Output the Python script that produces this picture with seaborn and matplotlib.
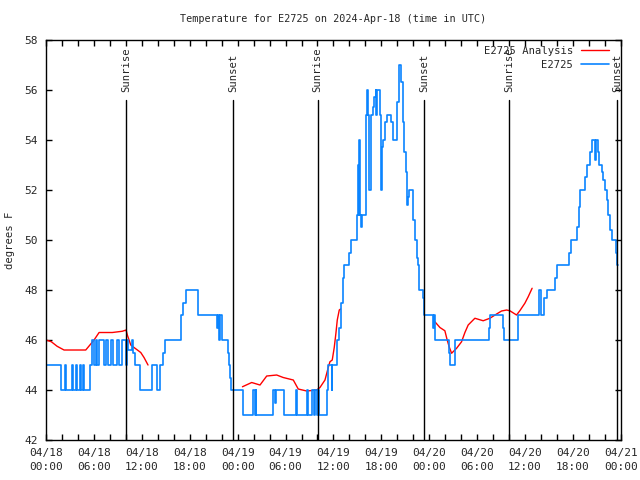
import matplotlib
matplotlib.use("Agg")
import matplotlib.pyplot as plt
import pandas as pd
import seaborn as sns
from matplotlib.lines import Line2D

# observed temperature (step series), hours since 04/18 00:00 UTC
obs_hours = [0.00, 1.92, 2.34, 2.54, 3.22, 3.34, 3.79, 3.92, 4.22, 4.42, 4.67, 4.76, 5.47, 5.80,
             6.01, 6.22, 6.42, 6.64, 7.26, 7.51, 7.80, 8.10, 8.39, 8.85, 9.10, 9.52, 10.02, 10.14,
             10.31, 10.81, 10.89, 11.14, 11.77, 13.24, 13.94, 14.28, 14.69, 14.90, 16.87, 17.16,
             17.53, 19.00, 21.38, 21.54, 21.66, 21.79, 22.00, 22.83, 22.95, 23.08, 23.20, 24.63,
             25.96, 26.17, 26.26, 26.33, 28.46, 28.68, 28.80, 29.80, 31.27, 31.39, 32.65, 32.85,
             33.27, 33.56, 33.69, 33.97, 34.06, 34.19, 35.22, 35.35, 35.78, 35.85, 36.40, 36.73,
             36.90, 37.15, 37.35, 37.98, 38.19, 38.98, 39.07, 39.16, 39.23, 39.32, 39.41, 39.53,
             40.07, 40.23, 40.32, 40.48, 40.66, 40.91, 41.11, 41.28, 41.36, 41.49, 41.79, 41.91,
             41.99, 42.07, 42.24, 42.45, 42.66, 43.16, 43.41, 43.49, 43.99, 44.16, 44.49, 44.67,
             44.87, 45.04, 45.17, 45.29, 45.42, 45.92, 46.17, 46.42, 46.55, 46.75, 47.17, 47.33,
             48.50, 48.59, 48.71, 50.50, 50.59, 51.22, 55.51, 55.60, 57.19, 57.35, 59.14, 61.77,
             61.95, 62.36, 62.70, 63.78, 64.03, 65.53, 65.70, 66.53, 66.71, 66.87, 67.49, 67.71,
             68.12, 68.33, 68.75, 68.87, 69.12, 69.29, 69.59, 69.79, 70.00, 70.21, 70.41, 70.63,
             70.84, 71.38, 71.47, 71.63]
obs_temps = [45, 44, 45, 44, 45, 44, 45, 44, 45, 44, 45, 44, 45, 46,
             45, 46, 45, 46, 45, 46, 45, 46, 45, 46, 45, 46, 45, 46,
             45.6, 46, 45.5, 45, 44, 45, 44, 45, 45.5, 46, 47, 47.5,
             48, 47, 46.5, 47, 46, 47, 46, 45.5, 45, 44.5, 44, 43,
             44, 43, 44, 43, 44, 43.5, 44, 43, 44, 43, 44, 43,
             44, 43, 44, 43, 44, 43, 44, 45, 44, 45, 46, 46.5,
             47.5, 48.5, 49, 49.5, 50, 51, 53, 51, 54, 51, 50.5, 51,
             55, 56, 55, 52, 55, 55.3, 55.7, 56, 55, 56, 55, 53,
             52, 53.7, 54, 54.7, 55, 54.7, 54.3, 54, 55.5, 57, 56.3, 54.7,
             53.5, 52.7, 51.4, 51.7, 52, 50.8, 50, 49.3, 49, 48, 47.7, 47,
             46.5, 47, 46, 45.5, 45, 46, 46.5, 47, 46.5, 46, 47, 48,
             47, 47.7, 48, 48.5, 49, 49.5, 50, 50.5, 51.3, 52, 52.5, 53,
             53.5, 54, 53.2, 54, 53.5, 53, 52.7, 52.4, 52, 51.6, 51, 50.4,
             50, 49.5, 49, 49]

# analysis series, three separate pieces
ana1_hours = [0.0, 0.66, 1.38, 2.25, 4.97, 6.01, 6.64, 8.30, 9.55, 10.02, 10.18, 10.61, 11.02, 11.86, 12.27, 12.77]
ana1_temps = [46.0, 45.93, 45.75, 45.6, 45.6, 46.0, 46.3, 46.3, 46.35, 46.4, 46.2, 45.8, 45.7, 45.5, 45.3, 45.0]
ana2_hours = [24.6, 25.76, 26.8, 27.64, 28.89, 29.71, 30.97, 31.59, 32.65, 33.9, 34.31, 34.94, 35.35,
              35.56, 35.85, 36.1, 36.31, 36.48, 36.73, 36.9]
ana2_temps = [44.13, 44.3, 44.2, 44.56, 44.6, 44.5, 44.4, 44.04, 43.96, 44.0, 44.1, 44.4, 44.9,
              45.13, 45.2, 45.7, 46.27, 46.8, 47.2, 47.24]
ana3_hours = [48.71, 49.34, 49.96, 50.25, 50.5, 50.8, 51.43, 52.05, 52.47, 52.88, 53.72, 54.76, 55.6,
              56.44, 57.06, 57.69, 58.1, 58.94, 59.35, 59.98, 60.4, 60.89]
ana3_temps = [46.73, 46.5, 46.37, 46.0, 45.73, 45.47, 45.67, 45.93, 46.3, 46.6, 46.87, 46.77, 46.87,
              47.04, 47.16, 47.2, 47.17, 47.0, 47.17, 47.47, 47.73, 48.07]

sun_hours = [10.05, 23.47, 34.02, 47.4, 58.04, 71.5]
sun_labels = ["Sunrise", "Sunset", "Sunrise", "Sunset", "Sunrise", "Sunset"]

tick_labels = ["04/18\n00:00", "04/18\n06:00", "04/18\n12:00", "04/18\n18:00",
               "04/19\n00:00", "04/19\n06:00", "04/19\n12:00", "04/19\n18:00",
               "04/20\n00:00", "04/20\n06:00", "04/20\n12:00", "04/20\n18:00",
               "04/21\n00:00"]

obs_df = pd.DataFrame({"hour": obs_hours, "temp": obs_temps})
ana_df = pd.concat([
    pd.DataFrame({"hour": ana1_hours, "temp": ana1_temps, "seg": 1}),
    pd.DataFrame({"hour": ana2_hours, "temp": ana2_temps, "seg": 2}),
    pd.DataFrame({"hour": ana3_hours, "temp": ana3_temps, "seg": 3}),
])

sns.set_style("ticks")
plt.rcParams["font.family"] = ["DejaVu Sans Mono"]
plt.rcParams["font.size"] = 7.3

red = "#ff0000"
blue = "#0a84ff"

fig, ax = plt.subplots(figsize=(6.4, 4.8), dpi=100)
fig.subplots_adjust(left=0.072, right=0.970, top=0.9167, bottom=0.0833)

sns.lineplot(data=ana_df, x="hour", y="temp", units="seg", estimator=None,
             color=red, lw=1.0, ax=ax)
sns.lineplot(data=obs_df, x="hour", y="temp", estimator=None, drawstyle="steps-post",
             color=blue, lw=1.2, ax=ax)

# sunrise / sunset markers
for h, lab in zip(sun_hours, sun_labels):
    ax.plot([h, h], [42, 55.6], color="black", lw=1.0)
    ax.text(h, 55.92, lab, rotation=90, ha="center", va="bottom", fontsize=7.6)

ax.set_xlim(0, 72)
ax.set_ylim(42, 58)
ax.set_xticks(range(0, 73, 2))
ax.set_xticklabels([tick_labels[i // 6] if i % 6 == 0 else "" for i in range(0, 73, 2)],
                   linespacing=1.45)
ax.set_yticks(range(42, 59, 2))
ax.tick_params(direction="in", top=True, right=True, length=4, width=1, color="black",
               labelsize=8)
ax.tick_params(axis="x", pad=6)
ax.tick_params(axis="y", pad=6)
for s in ax.spines.values():
    s.set_color("black")
    s.set_linewidth(1.0)

ax.set_xlabel("")
ax.set_ylabel("degrees F", fontsize=7.6, labelpad=7)
ax.set_title("Temperature for E2725 on 2024-Apr-18 (time in UTC)", fontsize=7.3, pad=13)

handles = [Line2D([], [], color=red, lw=1.0), Line2D([], [], color=blue, lw=1.2)]
ax.legend(handles, ["E2725 Analysis", "E2725"], loc="upper right", frameon=False,
          markerfirst=False, handlelength=2.7, handletextpad=0.7, borderaxespad=0.9,
          borderpad=0.2, labelspacing=0.4, fontsize=7.6, bbox_to_anchor=(1.0, 1.015))

fig.savefig("out.png", dpi=100)
